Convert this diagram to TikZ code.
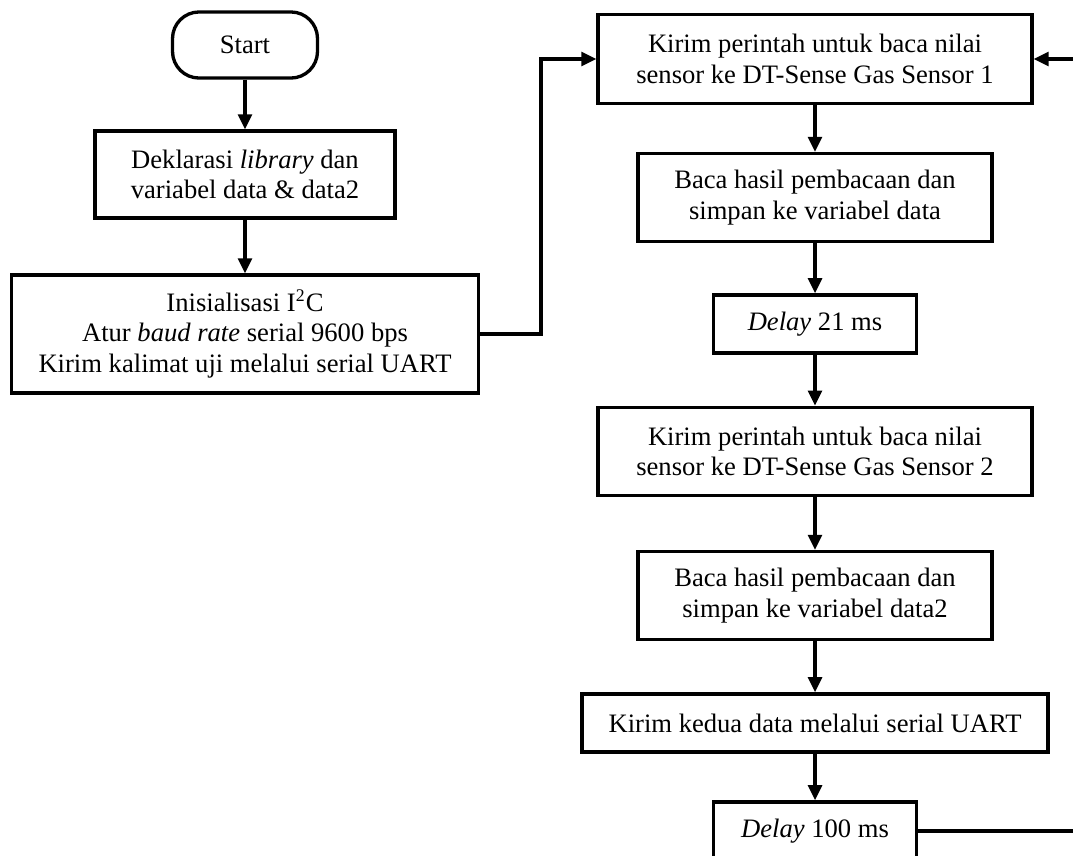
\documentclass[tikz,border=0pt]{standalone}
\usepackage{fontspec}
\setmainfont{Liberation Serif}
\usepackage{tikz}
\usetikzlibrary{arrows.meta}

\begin{document}
\begin{tikzpicture}[
    x=0.451pt, y=-0.451pt,
    font=\fontsize{12}{13.8}\selectfont,
    terminal/.style={rectangle, rounded corners=12pt, draw, line width=1.5pt, minimum width=65.4pt, minimum height=29.8pt, inner sep=0pt},
    process/.style={rectangle, draw, line width=1.5pt, align=center, inner sep=0pt},
    wide/.style={process, minimum width=195.7pt, minimum height=39.9pt},
    mid/.style={process, minimum width=159.7pt, minimum height=39.6pt},
    short/.style={process, minimum width=91.6pt, minimum height=26.2pt},
    arrow/.style={-{Triangle[length=6.8pt,width=6.2pt]}, line width=1.5pt}
]
    \useasboundingbox (0,0) rectangle (1073,855);

    % Start
    \node[terminal] (start) at (245, 45) {Start};

    % Deklarasi
    \node[process, minimum width=135.3pt, minimum height=39.2pt] (decl) at (245, 174.5) {Deklarasi \textit{library} dan\\variabel data \& data2};

    % Inisialisasi
    \node[process, minimum width=210.6pt, minimum height=53.2pt] (init) at (245, 334) {Inisialisasi I\textsuperscript{2}C\\Atur \textit{baud rate} serial 9600 bps\\Kirim kalimat uji melalui serial UART};

    % Sensor 1
    \node[wide] (sens1) at (815, 59) {Kirim perintah untuk baca nilai\\sensor ke DT-Sense Gas Sensor 1};
    \node[mid] (read1) at (815, 197.5) {Baca hasil pembacaan dan\\simpan ke variabel data};
    \node[short] (delay1) at (815, 324) {\textit{Delay} 21 ms};

    % Sensor 2
    \node[wide] (sens2) at (815, 451.5) {Kirim perintah untuk baca nilai\\sensor ke DT-Sense Gas Sensor 2};
    \node[mid] (read2) at (815, 595.5) {Baca hasil pembacaan dan\\simpan ke variabel data2};

    % Kirim data
    \node[process, minimum width=210.2pt, minimum height=26.2pt] (send) at (815, 723) {Kirim kedua data melalui serial UART};
    \node[short] (delay2) at (815, 831) {\textit{Delay} 100 ms};

    % Main path
    \draw[arrow] (start) -- (decl);
    \draw[arrow] (decl) -- (init);
    \draw[arrow] (init.east) -- ++(61, 0) |- (sens1.west);
    \draw[arrow] (sens1) -- (read1);
    \draw[arrow] (read1) -- (delay1);
    \draw[arrow] (delay1) -- (sens2);
    \draw[arrow] (sens2) -- (read2);
    \draw[arrow] (read2) -- (send);
    \draw[arrow] (send) -- (delay2);

    % Loop back
    \coordinate (back) at (1090, 831);
    \draw[arrow] (delay2.east) -- (back) |- (sens1.east);
\end{tikzpicture}
\end{document}
